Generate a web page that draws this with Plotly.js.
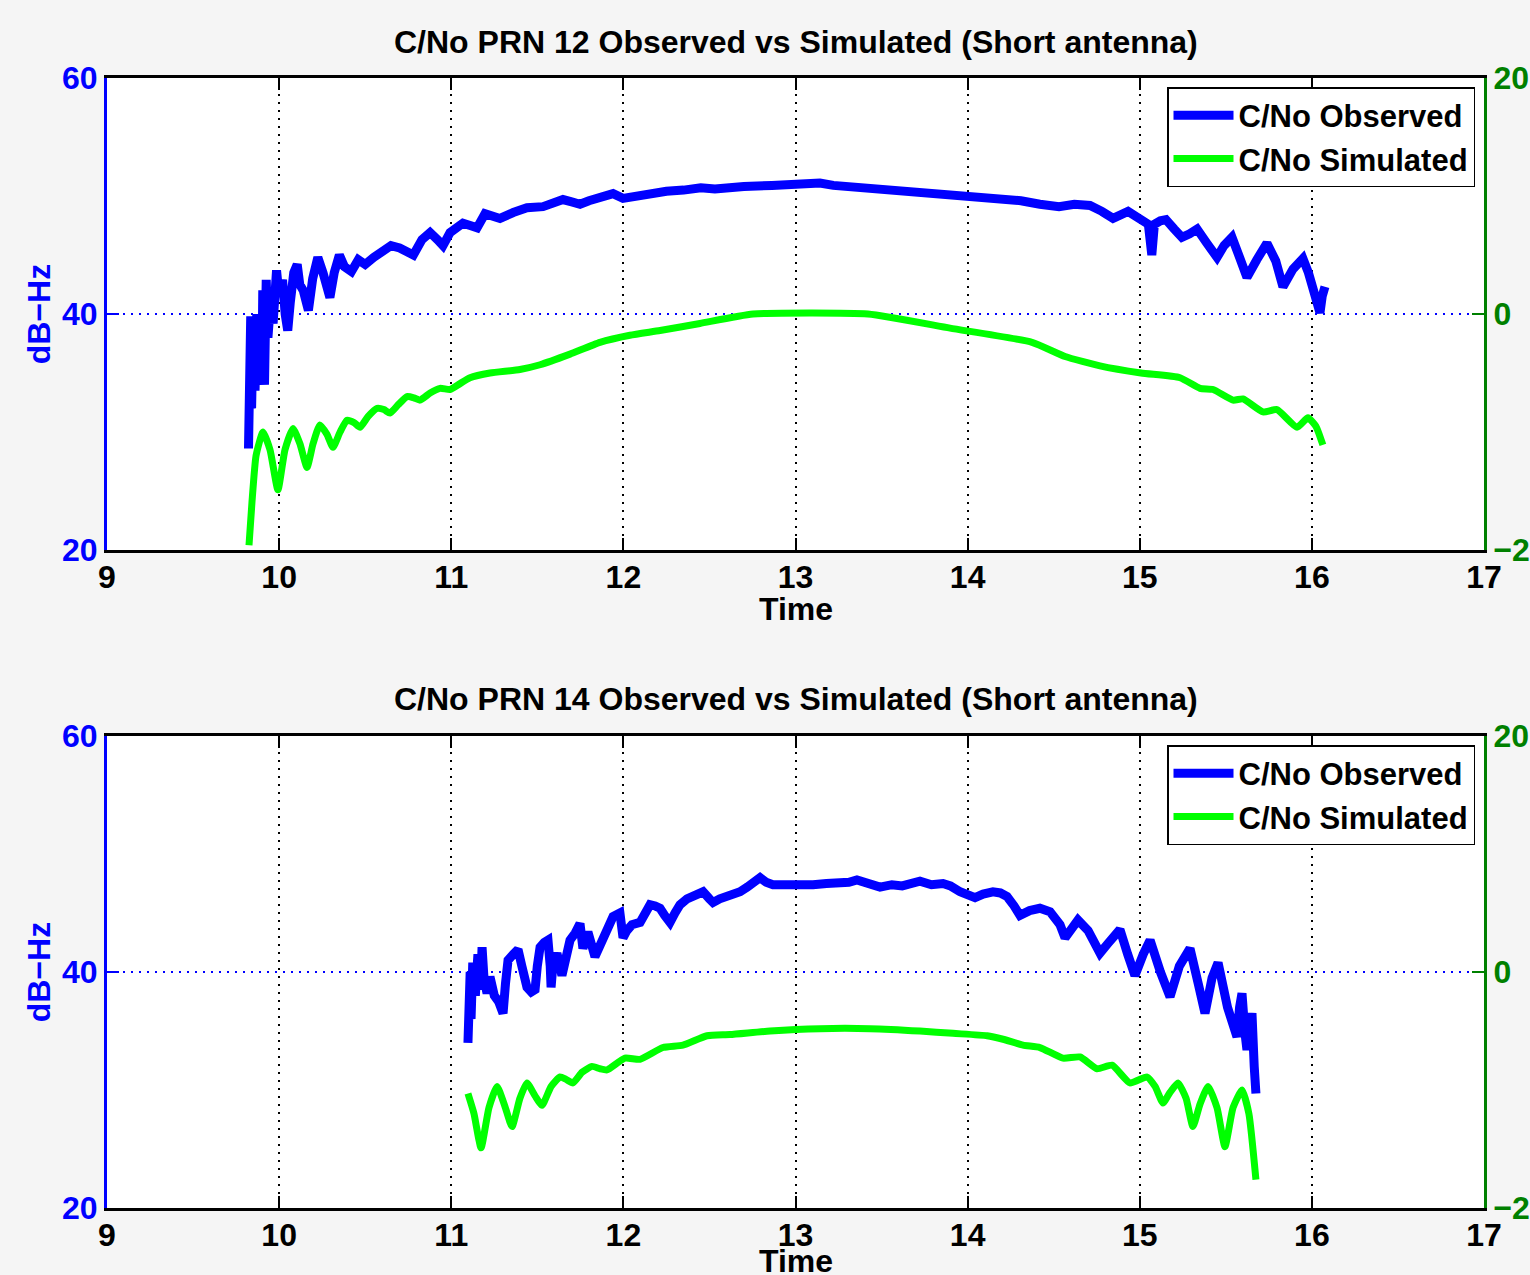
<!DOCTYPE html>
<html>
<head>
<meta charset="utf-8">
<script src="https://cdn.plot.ly/plotly-3.0.1.min.js"></script>
<style>html,body{margin:0;padding:0;background:#f5f5f5;}#chart{width:1530px;height:1275px;}</style>
</head>
<body>
<div id="chart"></div>
<script>
// ---------- Data ----------
var titleTop = "C/No PRN 12 Observed vs Simulated (Short antenna)";
var titleBottom = "C/No PRN 14 Observed vs Simulated (Short antenna)";
var nameObserved = "C/No Observed";
var nameSimulated = "C/No Simulated";
var xTitle = "Time";
var yTitle = "dB\u2212Hz";
var xTickVals = [9, 10, 11, 12, 13, 14, 15, 16, 17];
var leftTickVals = [20, 40, 60];
var rightTickVals = [-20, 0, 20];

// PRN 12 observed (left axis, dB-Hz)
var prn12ObsTime = [9.822,9.825,9.83,9.835,9.84,9.85,9.86,9.87,9.88,9.89,9.90,9.905,9.915,9.925,9.935,9.95,9.965,9.985,10.00,10.02,10.035,10.05,10.065,10.085,10.105,10.12,10.14,10.17,10.195,10.225,10.255,10.28,10.295,10.32,10.35,10.38,10.42,10.46,10.5,10.55,10.6,10.65,10.70,10.74,10.78,10.83,10.877,10.92,10.952,10.993,11.03,11.068,11.11,11.15,11.196,11.24,11.283,11.36,11.44,11.533,11.59,11.649,11.70,11.748,11.80,11.864,11.94,11.998,12.097,12.172,12.25,12.35,12.45,12.532,12.62,12.70,12.863,12.95,13.04,13.142,13.22,13.30,13.421,13.53,13.642,13.75,13.863,13.97,14.089,14.20,14.310,14.42,14.531,14.62,14.711,14.78,14.845,14.932,14.98,15.019,15.05,15.07,15.085,15.12,15.152,15.2,15.245,15.29,15.333,15.39,15.449,15.49,15.536,15.58,15.623,15.68,15.739,15.79,15.832,15.89,15.948,15.98,16.006,16.03,16.047,16.06,16.076];
var prn12ObsCN0 = [28.6,38,33,39.8,32,39.5,33.5,40,34,39,35,42,34,42.9,38,41,39.2,43.7,41.5,42.9,40,38.6,41,43.5,44.2,42.5,42,40.3,43,44.8,43.5,41.8,41.4,43.5,45,44,43.6,44.6,44.2,44.8,45.4,45.8,45.6,45.3,45.0,46.3,46.9,46.3,45.8,46.9,47.2,47.7,47.5,47.3,48.5,48.3,48.1,48.6,49.0,49.1,49.4,49.7,49.5,49.3,49.6,49.9,50.2,49.8,50.1,50.3,50.4,50.5,50.7,50.6,50.8,50.8,50.9,51.0,51.0,51.1,50.9,50.8,50.7,50.5,50.4,50.2,50.1,50.0,49.9,49.8,49.6,49.3,49.1,49.3,49.2,48.7,48.1,48.7,48.3,48.0,47.6,45.0,47.6,47.9,48.0,47.2,46.5,46.8,47.2,46.0,44.8,45.8,46.5,44.8,43.1,44.6,46.0,44.5,42.3,43.8,44.7,43.5,42.3,41.5,40.1,41.5,42.3];

// PRN 12 simulated (right axis)
var prn12SimTime = [9.825,9.842,9.866,9.906,9.947,9.993,10.034,10.081,10.121,10.162,10.197,10.237,10.278,10.313,10.354,10.394,10.435,10.470,10.516,10.569,10.609,10.644,10.691,10.743,10.783,10.818,10.877,10.935,10.993,11.051,11.109,11.225,11.399,11.516,11.690,11.864,12.038,12.213,12.445,12.753,13.421,13.898,14.374,14.566,14.769,15.007,15.234,15.35,15.426,15.542,15.6,15.716,15.797,15.914,15.977,16.023,16.064];
var prn12SimCN0 = [-19.6,-16,-12,-10,-11.5,-14.9,-11.5,-9.7,-11,-13,-11,-9.4,-10.2,-11.3,-10,-9,-9.2,-9.6,-8.7,-8,-8.1,-8.4,-7.7,-7,-7.1,-7.3,-6.7,-6.3,-6.4,-5.9,-5.4,-5,-4.7,-4.3,-3.4,-2.4,-1.8,-1.4,-0.8,0,0,-1.2,-2.4,-3.6,-4.4,-5,-5.4,-6.3,-6.4,-7.3,-7.2,-8.3,-8.1,-9.6,-8.8,-9.5,-11.1];

// PRN 14 observed (left axis, dB-Hz)
var prn14ObsTime = [11.097,11.100,11.105,11.11,11.115,11.125,11.14,11.155,11.17,11.179,11.19,11.208,11.225,11.25,11.275,11.301,11.315,11.330,11.36,11.388,11.41,11.440,11.465,11.487,11.50,11.516,11.54,11.562,11.575,11.580,11.59,11.614,11.643,11.665,11.690,11.72,11.748,11.765,11.794,11.835,11.86,11.882,11.91,11.940,11.980,11.998,12.02,12.050,12.097,12.125,12.155,12.185,12.213,12.24,12.271,12.30,12.329,12.37,12.404,12.463,12.50,12.521,12.56,12.602,12.64,12.678,12.72,12.753,12.794,12.83,12.869,12.94,13.003,13.05,13.102,13.18,13.259,13.31,13.357,13.42,13.491,13.56,13.62,13.723,13.79,13.857,13.90,13.956,14.0,14.043,14.09,14.147,14.19,14.229,14.27,14.304,14.36,14.420,14.479,14.537,14.566,14.60,14.641,14.70,14.769,14.82,14.885,14.93,14.972,15.02,15.060,15.12,15.176,15.23,15.292,15.34,15.379,15.42,15.455,15.51,15.565,15.58,15.594,15.61,15.623,15.64,15.652,15.665,15.675];
var prn14ObsCN0 = [34.0,39.9,35.1,40.0,36,40.8,38,41.5,38.5,42.1,39.5,38.2,39.6,38.0,37.5,36.5,39,41,41.5,41.9,40.5,38.7,38.3,38.5,40.5,42.1,42.5,42.7,40.5,38.7,40.5,41.6,39.7,41.3,42.7,43.3,44.1,42,43.4,41.3,42.2,43,44,44.7,45,42.9,43.5,44,44.2,45,45.7,45.6,45.4,44.8,44.2,45,45.7,46.2,46.5,46.8,46.2,45.9,46.2,46.4,46.7,46.8,47.2,47.6,48.0,47.6,47.4,47.4,47.4,47.3,47.4,47.5,47.5,47.6,47.8,47.5,47.2,47.4,47.3,47.7,47.4,47.5,47.3,46.8,46.6,46.3,46.6,46.8,46.7,46.4,45.6,44.8,45.2,45.4,45.1,44,42.9,43.5,44.4,43.5,41.6,42.5,43.6,41.5,39.7,41.5,42.7,40,37.9,40.5,42,39,36.5,39.5,40.8,37,34.5,37,38.2,35,33.4,35.5,36.5,32,29.7];

// PRN 14 simulated (right axis)
var prn14SimTime = [11.097,11.132,11.173,11.219,11.266,11.312,11.353,11.399,11.440,11.487,11.527,11.580,11.632,11.667,11.707,11.760,11.818,11.864,11.905,12.009,12.097,12.230,12.346,12.486,12.619,12.852,13.142,13.433,13.723,13.915,14.113,14.206,14.322,14.420,14.554,14.653,14.752,14.839,14.943,15.042,15.089,15.135,15.176,15.222,15.269,15.309,15.350,15.397,15.449,15.495,15.542,15.594,15.634,15.675];
var prn14SimCN0 = [-10.3,-12,-14.9,-11.5,-9.7,-11.4,-13.1,-10.7,-9.4,-10.5,-11.3,-9.7,-8.9,-9.1,-9.4,-8.5,-8,-8.2,-8.3,-7.3,-7.4,-6.4,-6.2,-5.4,-5.3,-5.0,-4.8,-4.8,-5.0,-5.2,-5.4,-5.7,-6.2,-6.4,-7.3,-7.2,-8.2,-7.9,-9.4,-8.9,-9.7,-11.1,-10.2,-9.4,-10.7,-13.1,-11.2,-9.7,-11.5,-14.8,-11.5,-10,-12,-17.6];

// ---------- Styling ----------
var FONT = "Liberation Sans, Arial, Helvetica, sans-serif";
var FS = 32;
var LEG_FS = 31;
var BLUE = "#0000ff";
var LGREEN = "#00ff00";
var DGREEN = "#008000";

var traces = [
  {x: prn12ObsTime, y: prn12ObsCN0, xaxis: "x", yaxis: "y", type: "scatter", mode: "lines",
   name: nameObserved, line: {color: BLUE, width: 9}, legend: "legend"},
  {x: prn12SimTime, y: prn12SimCN0, xaxis: "x", yaxis: "y2", type: "scatter", mode: "lines",
   name: nameSimulated, line: {color: LGREEN, width: 7, shape: "spline", smoothing: 0.5}, legend: "legend"},
  {x: prn14ObsTime, y: prn14ObsCN0, xaxis: "x2", yaxis: "y3", type: "scatter", mode: "lines",
   name: nameObserved, line: {color: BLUE, width: 9}, legend: "legend2"},
  {x: prn14SimTime, y: prn14SimCN0, xaxis: "x2", yaxis: "y4", type: "scatter", mode: "lines",
   name: nameSimulated, line: {color: LGREEN, width: 7, shape: "spline", smoothing: 0.5}, legend: "legend2"}
];

var W = 1530, H = 1275;
var xDom = [107 / W, 1484 / W];
var topDom = [(H - 550) / H, (H - 78) / H];
var botDom = [(H - 1208) / H, (H - 736) / H];

function xAxis(anchor, domain) {
  return {
    domain: domain, anchor: anchor, range: [9, 17], tickvals: xTickVals,
    ticks: "inside", ticklen: 12, tickwidth: 2, tickcolor: "black",
    showline: true, linecolor: "black", linewidth: 3, mirror: "ticks",
    showgrid: true, gridcolor: "black", gridwidth: 2, griddash: "2px,6px",
    zeroline: false, fixedrange: true, ticklabelstandoff: -3,
    tickfont: {family: FONT, size: FS, color: "black", weight: "bold"}
  };
}
function yLeft(anchor, domain) {
  return {
    domain: domain, anchor: anchor, range: [20, 60], tickvals: leftTickVals,
    ticks: "inside", ticklen: 12, tickwidth: 2, tickcolor: BLUE,
    showline: true, linecolor: BLUE, linewidth: 3,
    showgrid: true, gridcolor: BLUE, gridwidth: 2, griddash: "2px,6px",
    zeroline: false, fixedrange: true,
    tickfont: {family: FONT, size: FS, color: BLUE, weight: "bold"},
    title: {text: yTitle, font: {family: FONT, size: FS, color: BLUE, weight: "bold"}, standoff: 2}
  };
}
function yRight(anchor, over) {
  return {
    overlaying: over, anchor: anchor, side: "right", range: [-20, 20], tickvals: rightTickVals,
    ticks: "inside", ticklen: 12, tickwidth: 2, tickcolor: DGREEN,
    showline: true, linecolor: DGREEN, linewidth: 3,
    showgrid: false, zeroline: false, fixedrange: true,
    tickfont: {family: FONT, size: FS, color: DGREEN, weight: "bold"}
  };
}

function legendAt(yTop) {
  return {
    x: 1475 / W, xanchor: "right", y: (H - yTop) / H, yanchor: "top",
    bgcolor: "white", bordercolor: "black", borderwidth: 1.5,
    font: {family: FONT, size: LEG_FS, color: "black", weight: "bold"},
    itemwidth: 60, tracegroupgap: 0
  };
}

function textNote(txt, xPx, yPx) {
  return {text: txt, xref: "paper", yref: "paper", x: xPx / W, y: (H - yPx) / H,
          xanchor: "center", yanchor: "middle", showarrow: false,
          font: {family: FONT, size: FS, color: "black", weight: "bold"}};
}

var layout = {
  width: W, height: H,
  paper_bgcolor: "#f5f5f5", plot_bgcolor: "white",
  margin: {l: 0, r: 0, t: 0, b: 0},
  showlegend: true,
  xaxis: xAxis("y", xDom),
  yaxis: yLeft("x", topDom),
  yaxis2: yRight("x", "y"),
  xaxis2: xAxis("y3", xDom),
  yaxis3: yLeft("x2", botDom),
  yaxis4: yRight("x2", "y3"),
  legend: legendAt(87),
  legend2: legendAt(745),
  annotations: [
    textNote(titleTop, 795.5, 42),
    textNote(titleBottom, 795.5, 699),
    textNote(xTitle, 795.5, 609),
    textNote(xTitle, 795.5, 1261)
  ]
};

Plotly.newPlot("chart", traces, layout, {displayModeBar: false, staticPlot: true});
</script>
</body>
</html>
